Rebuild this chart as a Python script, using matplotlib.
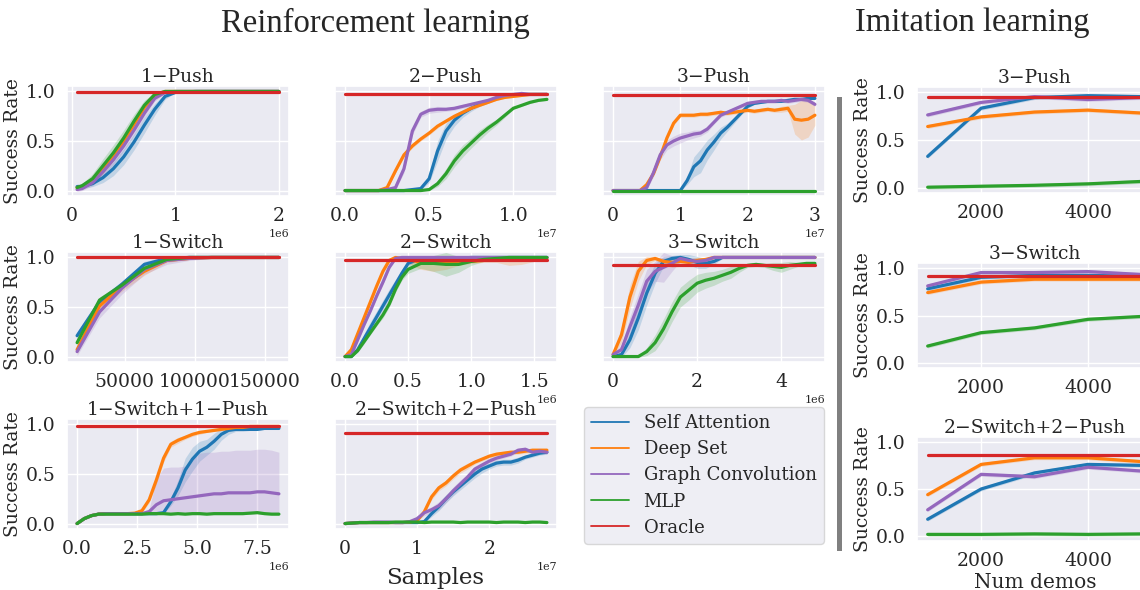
import numpy as np
import matplotlib
matplotlib.use("Agg")
import matplotlib.pyplot as plt
import seaborn as sns
from matplotlib.ticker import MultipleLocator
from matplotlib.lines import Line2D
from matplotlib.patches import Rectangle

sns.set_theme(style="darkgrid")
plt.rcParams["font.family"] = ["DejaVu Serif"]
plt.rcParams["text.color"] = "#262626"
plt.rcParams["xtick.color"] = "#262626"
plt.rcParams["ytick.color"] = "#262626"
plt.rcParams["axes.labelcolor"] = "#262626"

METHODS = ["Self Attention", "Deep Set", "Graph Convolution", "MLP", "Oracle"]
COLORS = ["#1f77b4", "#ff7f0e", "#9467bd", "#2ca02c", "#d62728"]

# ---------------- Reinforcement learning ----------------
# 1-Push
push1_x = np.array([0.05, 0.1, 0.2, 0.3, 0.4, 0.5, 0.6, 0.7, 0.8, 0.9, 1.0, 1.2, 1.4, 1.6, 1.8, 2.0]) * 1e6
push1_sa = [0.04, 0.04, 0.07, 0.13, 0.22, 0.34, 0.49, 0.66, 0.82, 0.95, 0.99, 1.0, 1.0, 1.0, 1.0, 1.0]
push1_ds = [0.03, 0.04, 0.11, 0.22, 0.35, 0.50, 0.67, 0.84, 0.96, 1.0, 1.0, 1.0, 1.0, 1.0, 1.0, 1.0]
push1_gc = [0.01, 0.02, 0.08, 0.19, 0.31, 0.45, 0.61, 0.78, 0.93, 0.99, 1.0, 1.0, 1.0, 1.0, 1.0, 1.0]
push1_mlp = [0.03, 0.05, 0.12, 0.25, 0.38, 0.53, 0.70, 0.86, 0.97, 1.0, 1.0, 1.0, 1.0, 1.0, 1.0, 1.0]
push1_sa_sd = [0.03, 0.02, 0.03, 0.05, 0.07, 0.08, 0.08, 0.08, 0.06, 0.03, 0.0, 0, 0, 0, 0, 0]
push1_ds_sd = [0.02, 0.02, 0.04, 0.05, 0.05, 0.05, 0.05, 0.04, 0.02, 0.0, 0, 0, 0, 0, 0, 0]
push1_gc_sd = [0.02, 0.02, 0.03, 0.04, 0.05, 0.05, 0.05, 0.04, 0.03, 0.01, 0, 0, 0, 0, 0, 0]
push1_mlp_sd = [0.02, 0.02, 0.05, 0.07, 0.08, 0.08, 0.07, 0.05, 0.02, 0.0, 0, 0, 0, 0, 0, 0]
push1_oracle = 0.99

# 2-Push
push2_x = np.linspace(0, 1.2e7, 25)
push2_sa = [0, 0, 0, 0, 0, 0, 0, 0, 0.01, 0.02, 0.12, 0.40, 0.60, 0.71, 0.78, 0.83, 0.87, 0.90, 0.93, 0.95, 0.96, 0.97, 0.97, 0.97, 0.97]
push2_ds = [0, 0, 0, 0, 0, 0.03, 0.20, 0.36, 0.45, 0.52, 0.58, 0.65, 0.70, 0.75, 0.79, 0.83, 0.86, 0.89, 0.92, 0.94, 0.95, 0.96, 0.97, 0.97, 0.97]
push2_gc = [0, 0, 0, 0, 0, 0.01, 0.03, 0.22, 0.60, 0.77, 0.81, 0.82, 0.82, 0.83, 0.85, 0.87, 0.89, 0.91, 0.94, 0.96, 0.97, 0.98, 0.97, 0.97, 0.97]
push2_mlp = [0, 0, 0, 0, 0, 0, 0, 0, 0, 0, 0.01, 0.07, 0.17, 0.30, 0.40, 0.48, 0.56, 0.63, 0.69, 0.76, 0.83, 0.86, 0.89, 0.91, 0.92]
push2_sa_sd = [0, 0, 0, 0, 0, 0, 0, 0, 0, 0.01, 0.04, 0.10, 0.08, 0.06, 0.04, 0.03, 0.02, 0.02, 0.01, 0.01, 0.01, 0.01, 0.01, 0.01, 0.01]
push2_ds_sd = [0, 0, 0, 0, 0, 0.01, 0.02, 0.02, 0.02, 0.02, 0.02, 0.02, 0.01, 0.01, 0.01, 0.01, 0.01, 0.01, 0.01, 0.01, 0.01, 0.01, 0.01, 0.01, 0.01]
push2_gc_sd = [0, 0, 0, 0, 0, 0.01, 0.02, 0.04, 0.04, 0.03, 0.03, 0.03, 0.02, 0.02, 0.02, 0.02, 0.01, 0.01, 0.01, 0.01, 0.01, 0.01, 0.01, 0.01, 0.01]
push2_mlp_sd = [0, 0, 0, 0, 0, 0, 0, 0, 0, 0, 0.01, 0.03, 0.05, 0.06, 0.06, 0.05, 0.05, 0.04, 0.03, 0.02, 0.01, 0.01, 0.01, 0.01, 0.01]
push2_oracle = 0.97

# 3-Push
push3_x = np.linspace(0, 3e7, 31)
push3_sa = [0, 0, 0, 0, 0, 0, 0, 0, 0, 0, 0, 0.10, 0.24, 0.30, 0.41, 0.49, 0.58, 0.64, 0.71, 0.78, 0.85, 0.88, 0.89, 0.90, 0.90, 0.90, 0.91, 0.92, 0.92, 0.93, 0.93]
push3_ds = [0, 0, 0, 0, 0, 0.06, 0.17, 0.34, 0.53, 0.68, 0.76, 0.76, 0.76, 0.77, 0.77, 0.78, 0.79, 0.78, 0.79, 0.80, 0.81, 0.80, 0.81, 0.82, 0.81, 0.82, 0.83, 0.72, 0.71, 0.72, 0.76]
push3_gc = [0, 0, 0, 0, 0, 0.03, 0.18, 0.36, 0.46, 0.50, 0.53, 0.55, 0.57, 0.58, 0.62, 0.69, 0.76, 0.79, 0.82, 0.85, 0.88, 0.89, 0.90, 0.90, 0.90, 0.91, 0.90, 0.91, 0.92, 0.91, 0.87]
push3_mlp = [0] * 31
push3_sa_sd = [0, 0, 0, 0, 0, 0, 0, 0, 0, 0, 0, 0.04, 0.10, 0.12, 0.10, 0.08, 0.06, 0.04, 0.03, 0.02, 0.02, 0.01, 0.01, 0.01, 0.01, 0.01, 0.01, 0.01, 0.01, 0.01, 0.01]
push3_ds_sd = [0, 0, 0, 0, 0, 0.02, 0.02, 0.02, 0.02, 0.02, 0.02, 0.02, 0.02, 0.02, 0.02, 0.02, 0.02, 0.02, 0.02, 0.02, 0.02, 0.02, 0.02, 0.02, 0.02, 0.03, 0.03, 0.15, 0.20, 0.18, 0.10]
push3_gc_sd = [0, 0, 0, 0, 0, 0.02, 0.04, 0.05, 0.05, 0.05, 0.05, 0.04, 0.04, 0.03, 0.03, 0.02, 0.02, 0.02, 0.02, 0.02, 0.02, 0.02, 0.02, 0.02, 0.02, 0.02, 0.02, 0.02, 0.02, 0.02, 0.02]
push3_mlp_sd = 0.0
push3_oracle = 0.96

# 1-Switch
switch1_x = np.array([16000, 32000, 48000, 64000, 80000, 96000, 112000, 128000, 144000, 160000])
switch1_sa = [0.21, 0.55, 0.73, 0.93, 0.99, 1.0, 1.0, 1.0, 1.0, 1.0]
switch1_ds = [0.07, 0.51, 0.71, 0.86, 0.97, 0.99, 1.0, 1.0, 1.0, 1.0]
switch1_gc = [0.05, 0.45, 0.69, 0.88, 0.97, 0.99, 1.0, 1.0, 1.0, 1.0]
switch1_mlp = [0.14, 0.57, 0.72, 0.89, 0.98, 1.0, 1.0, 1.0, 1.0, 1.0]
switch1_sa_sd = [0.04, 0.04, 0.03, 0.03, 0.02, 0.01, 0, 0, 0, 0]
switch1_ds_sd = [0.04, 0.04, 0.05, 0.04, 0.02, 0.01, 0, 0, 0, 0]
switch1_gc_sd = [0.04, 0.06, 0.06, 0.05, 0.04, 0.02, 0.01, 0, 0, 0]
switch1_mlp_sd = [0.03, 0.03, 0.03, 0.03, 0.02, 0.01, 0, 0, 0, 0]
switch1_oracle = 1.0

# 2-Switch
switch2_x = np.array([0, 0.05, 0.1, 0.15, 0.2, 0.25, 0.3, 0.35, 0.4, 0.45, 0.5, 0.6, 0.7, 0.8, 0.9, 1.0, 1.1, 1.2, 1.3, 1.4, 1.5, 1.6]) * 1e6
switch2_sa = [0, 0, 0.07, 0.18, 0.29, 0.40, 0.51, 0.62, 0.73, 0.84, 0.94, 0.99, 0.99, 0.99, 0.99, 1.0, 1.0, 1.0, 1.0, 1.0, 1.0, 1.0]
switch2_ds = [0, 0.07, 0.23, 0.39, 0.55, 0.71, 0.86, 0.97, 1.0, 0.99, 0.98, 0.95, 0.94, 0.94, 0.95, 0.96, 0.97, 0.98, 0.97, 0.97, 0.98, 0.99]
switch2_gc = [0, 0.02, 0.17, 0.32, 0.46, 0.61, 0.75, 0.90, 0.99, 1.0, 1.0, 1.0, 1.0, 1.0, 1.0, 1.0, 1.0, 1.0, 1.0, 1.0, 1.0, 1.0]
switch2_mlp = [0, 0, 0.06, 0.15, 0.24, 0.33, 0.42, 0.53, 0.68, 0.80, 0.88, 0.94, 0.94, 0.93, 0.93, 0.96, 0.98, 0.99, 1.0, 1.0, 1.0, 1.0]
switch2_sa_sd = [0, 0, 0.03, 0.05, 0.06, 0.06, 0.06, 0.06, 0.05, 0.04, 0.02, 0.01, 0.01, 0.01, 0.01, 0, 0, 0, 0, 0, 0, 0]
switch2_ds_sd = [0, 0.01, 0.02, 0.02, 0.02, 0.02, 0.02, 0.02, 0.01, 0.02, 0.04, 0.07, 0.08, 0.06, 0.03, 0.02, 0.02, 0.03, 0.05, 0.04, 0.02, 0.01]
switch2_gc_sd = [0, 0.01, 0.02, 0.02, 0.02, 0.02, 0.02, 0.02, 0.01, 0, 0, 0, 0, 0, 0, 0, 0, 0, 0, 0, 0, 0]
switch2_mlp_sd = [0, 0, 0.01, 0.02, 0.02, 0.02, 0.03, 0.03, 0.03, 0.03, 0.04, 0.05, 0.08, 0.12, 0.08, 0.04, 0.02, 0.01, 0, 0, 0, 0]
switch2_oracle = 0.975

# 3-Switch
switch3_x = np.linspace(0, 4.8e6, 25)
switch3_sa = [0.0, 0.02, 0.17, 0.39, 0.64, 0.84, 0.96, 0.99, 1.0, 0.98, 0.95, 0.94, 0.96, 1.0, 1.0, 1.0, 1.0, 1.0, 1.0, 1.0, 1.0, 1.0, 1.0, 1.0, 1.0]
switch3_ds = [0.02, 0.22, 0.60, 0.86, 0.97, 0.99, 0.96, 0.95, 0.96, 0.95, 0.97, 0.98, 1.0, 1.0, 1.0, 1.0, 1.0, 1.0, 1.0, 1.0, 1.0, 1.0, 1.0, 1.0, 1.0]
switch3_gc = [0.02, 0.07, 0.30, 0.52, 0.76, 0.86, 0.90, 0.94, 0.99, 0.97, 0.96, 0.97, 1.0, 1.0, 1.0, 1.0, 1.0, 1.0, 1.0, 1.0, 1.0, 1.0, 1.0, 1.0, 1.0]
switch3_mlp = [0, 0, 0, 0, 0.05, 0.14, 0.28, 0.45, 0.60, 0.67, 0.74, 0.77, 0.79, 0.82, 0.85, 0.89, 0.92, 0.93, 0.92, 0.91, 0.90, 0.92, 0.93, 0.94, 0.94]
switch3_sa_sd = [0.01, 0.03, 0.08, 0.12, 0.12, 0.10, 0.05, 0.03, 0.03, 0.05, 0.06, 0.05, 0.03, 0.01, 0, 0, 0, 0, 0, 0, 0, 0, 0, 0, 0]
switch3_ds_sd = [0.01, 0.08, 0.12, 0.10, 0.04, 0.02, 0.03, 0.05, 0.05, 0.04, 0.03, 0.02, 0.01, 0, 0, 0, 0, 0, 0, 0, 0, 0, 0, 0, 0]
switch3_gc_sd = [0.01, 0.05, 0.10, 0.12, 0.12, 0.10, 0.15, 0.08, 0.03, 0.03, 0.03, 0.02, 0.01, 0, 0, 0, 0, 0, 0, 0, 0, 0, 0, 0, 0]
switch3_mlp_sd = [0, 0, 0, 0.01, 0.04, 0.08, 0.10, 0.10, 0.10, 0.10, 0.09, 0.08, 0.07, 0.06, 0.06, 0.04, 0.02, 0.02, 0.02, 0.04, 0.05, 0.04, 0.02, 0.01, 0.01]
switch3_oracle = 0.92

# 1-Switch+1-Push
s1p1_x = np.linspace(0, 8.4e6, 29)
s1p1_sa = [0, 0.05, 0.08, 0.095, 0.1, 0.1, 0.1, 0.1, 0.1, 0.1, 0.1, 0.1, 0.11, 0.22, 0.36, 0.54, 0.65, 0.73, 0.77, 0.83, 0.90, 0.94, 0.95, 0.95, 0.95, 0.95, 0.96, 0.96, 0.96]
s1p1_ds = [0, 0.05, 0.08, 0.095, 0.1, 0.1, 0.1, 0.1, 0.105, 0.13, 0.24, 0.44, 0.66, 0.80, 0.84, 0.87, 0.90, 0.92, 0.93, 0.94, 0.95, 0.96, 0.97, 0.97, 0.98, 0.98, 0.98, 0.98, 0.98]
s1p1_gc = [0, 0.05, 0.08, 0.095, 0.1, 0.1, 0.1, 0.1, 0.1, 0.1, 0.12, 0.19, 0.23, 0.24, 0.25, 0.26, 0.27, 0.28, 0.29, 0.30, 0.30, 0.31, 0.31, 0.31, 0.31, 0.32, 0.32, 0.31, 0.30]
s1p1_mlp = [0, 0.05, 0.08, 0.095, 0.095, 0.095, 0.095, 0.095, 0.095, 0.095, 0.1, 0.1, 0.1, 0.095, 0.1, 0.095, 0.1, 0.1, 0.095, 0.1, 0.1, 0.1, 0.1, 0.1, 0.105, 0.11, 0.1, 0.095, 0.095]
s1p1_sa_sd = [0, 0.01, 0.01, 0.01, 0.01, 0.01, 0.01, 0.01, 0.01, 0.01, 0.01, 0.01, 0.01, 0.04, 0.08, 0.12, 0.12, 0.10, 0.08, 0.08, 0.06, 0.04, 0.02, 0.02, 0.01, 0.01, 0.01, 0.01, 0.01]
s1p1_ds_sd = [0, 0.01, 0.01, 0.01, 0.01, 0.01, 0.01, 0.01, 0.01, 0.02, 0.03, 0.04, 0.04, 0.03, 0.03, 0.02, 0.02, 0.02, 0.01, 0.01, 0.01, 0.01, 0.01, 0.01, 0.01, 0.01, 0.01, 0.01, 0.01]
s1p1_gc_lo = [0, 0.05, 0.08, 0.09, 0.095, 0.095, 0.095, 0.095, 0.095, 0.095, 0.1, 0.1, 0.1, 0.1, 0.1, 0.1, 0.1, 0.1, 0.1, 0.1, 0.1, 0.1, 0.1, 0.1, 0.1, 0.1, 0.1, 0.1, 0.1]
s1p1_gc_hi = [0, 0.05, 0.08, 0.10, 0.11, 0.11, 0.11, 0.11, 0.11, 0.12, 0.15, 0.45, 0.56, 0.57, 0.57, 0.58, 0.65, 0.71, 0.72, 0.72, 0.73, 0.73, 0.74, 0.74, 0.74, 0.75, 0.75, 0.74, 0.72]
s1p1_mlp_sd = 0.01
s1p1_oracle = 0.98

# 2-Switch+2-Push
s2p2_x = np.linspace(0, 2.8e7, 29)
s2p2_sa = [0, 0.005, 0.01, 0.01, 0.01, 0.01, 0.01, 0.01, 0.01, 0.01, 0.01, 0.02, 0.10, 0.17, 0.25, 0.32, 0.38, 0.44, 0.50, 0.55, 0.58, 0.61, 0.62, 0.62, 0.64, 0.67, 0.69, 0.71, 0.72]
s2p2_ds = [0, 0.005, 0.01, 0.01, 0.01, 0.01, 0.01, 0.01, 0.01, 0.015, 0.03, 0.12, 0.27, 0.36, 0.41, 0.48, 0.54, 0.58, 0.62, 0.65, 0.68, 0.70, 0.71, 0.72, 0.72, 0.73, 0.74, 0.74, 0.74]
s2p2_gc = [0, 0.005, 0.01, 0.01, 0.015, 0.015, 0.015, 0.01, 0.01, 0.02, 0.05, 0.11, 0.14, 0.18, 0.25, 0.33, 0.40, 0.47, 0.55, 0.59, 0.63, 0.66, 0.68, 0.70, 0.74, 0.75, 0.72, 0.73, 0.72]
s2p2_mlp = [0, 0.005, 0.01, 0.01, 0.01, 0.01, 0.01, 0.015, 0.015, 0.015, 0.015, 0.01, 0.015, 0.015, 0.015, 0.015, 0.01, 0.015, 0.015, 0.015, 0.015, 0.01, 0.015, 0.015, 0.015, 0.01, 0.015, 0.015, 0.01]
s2p2_sa_sd = [0, 0, 0, 0, 0, 0, 0, 0, 0, 0, 0, 0.01, 0.03, 0.04, 0.04, 0.04, 0.04, 0.04, 0.04, 0.04, 0.03, 0.03, 0.03, 0.03, 0.03, 0.02, 0.02, 0.02, 0.02]
s2p2_ds_sd = [0, 0, 0, 0, 0, 0, 0, 0, 0, 0.01, 0.01, 0.02, 0.03, 0.03, 0.03, 0.03, 0.03, 0.03, 0.02, 0.02, 0.02, 0.02, 0.02, 0.02, 0.02, 0.02, 0.02, 0.02, 0.02]
s2p2_gc_sd = [0, 0, 0, 0, 0, 0, 0, 0, 0, 0.01, 0.02, 0.03, 0.03, 0.04, 0.04, 0.04, 0.04, 0.03, 0.03, 0.03, 0.03, 0.02, 0.02, 0.02, 0.02, 0.02, 0.02, 0.02, 0.02]
s2p2_mlp_sd = 0.005
s2p2_oracle = 0.91

# ---------------- Imitation learning ----------------
demos = np.array([1000, 2000, 3000, 4000, 5000])

il_push3_sa = [0.33, 0.83, 0.94, 0.96, 0.95]
il_push3_ds = [0.64, 0.74, 0.79, 0.81, 0.78]
il_push3_gc = [0.76, 0.89, 0.95, 0.92, 0.94]
il_push3_mlp = [0.01, 0.02, 0.03, 0.045, 0.07]
il_push3_oracle = 0.95

il_switch3_sa = [0.78, 0.90, 0.92, 0.92, 0.91]
il_switch3_ds = [0.74, 0.85, 0.88, 0.88, 0.88]
il_switch3_gc = [0.81, 0.95, 0.95, 0.96, 0.93]
il_switch3_mlp = [0.18, 0.32, 0.37, 0.46, 0.49]
il_switch3_oracle = 0.91

il_s2p2_sa = [0.18, 0.50, 0.67, 0.76, 0.75]
il_s2p2_ds = [0.44, 0.76, 0.83, 0.83, 0.79]
il_s2p2_gc = [0.28, 0.655, 0.63, 0.73, 0.69]
il_s2p2_mlp = [0.02, 0.02, 0.025, 0.02, 0.025]
il_s2p2_oracle = 0.86
il_sd = 0.02

W, H = 1140, 590
fig = plt.figure(figsize=(W / 100, H / 100), dpi=100)


def axes_px(left, top, width, height):
    return fig.add_axes([left / W, 1 - (top + height) / H, width / W, height / H])


def draw_panel(ax, x, curves, oracle, title, step, ylabels):
    for color, (mean, spread) in zip(COLORS[:4], curves):
        mean = np.asarray(mean, dtype=float)
        if isinstance(spread, tuple):
            lo, hi = (np.asarray(s, dtype=float) for s in spread)
        else:
            sd = np.asarray(spread, dtype=float)
            lo, hi = mean - sd, mean + sd
        ax.fill_between(x, lo, hi, color=color, alpha=0.2, lw=0)
        ax.plot(x, mean, color=color, lw=2.3)
    ax.plot([x[0], x[-1]], [oracle, oracle], color=COLORS[4], lw=2.3)
    ax.set_title(title, fontsize=13.5, pad=3)
    ax.set_ylim(-0.055, 1.055)
    ax.set_yticks([0.0, 0.5, 1.0])
    ax.xaxis.set_major_locator(MultipleLocator(step))
    ax.tick_params(labelsize=13.5, pad=2)
    ax.xaxis.get_offset_text().set_fontsize(8)
    if ylabels:
        ax.set_ylabel("Success Rate", fontsize=13.5, labelpad=3)
    else:
        ax.set_yticklabels([])


cols = [67, 335, 603]
rows = [86, 252, 419]
aw, ah = 222, 110

rl_panels = [
    (0, 0, push1_x, [(push1_sa, push1_sa_sd), (push1_ds, push1_ds_sd), (push1_gc, push1_gc_sd), (push1_mlp, push1_mlp_sd)], push1_oracle, "1\u2212Push", 1e6),
    (0, 1, push2_x, [(push2_sa, push2_sa_sd), (push2_ds, push2_ds_sd), (push2_gc, push2_gc_sd), (push2_mlp, push2_mlp_sd)], push2_oracle, "2\u2212Push", 0.5e7),
    (0, 2, push3_x, [(push3_sa, push3_sa_sd), (push3_ds, push3_ds_sd), (push3_gc, push3_gc_sd), (push3_mlp, push3_mlp_sd)], push3_oracle, "3\u2212Push", 1e7),
    (1, 0, switch1_x, [(switch1_sa, switch1_sa_sd), (switch1_ds, switch1_ds_sd), (switch1_gc, switch1_gc_sd), (switch1_mlp, switch1_mlp_sd)], switch1_oracle, "1\u2212Switch", 50000),
    (1, 1, switch2_x, [(switch2_sa, switch2_sa_sd), (switch2_ds, switch2_ds_sd), (switch2_gc, switch2_gc_sd), (switch2_mlp, switch2_mlp_sd)], switch2_oracle, "2\u2212Switch", 0.5e6),
    (1, 2, switch3_x, [(switch3_sa, switch3_sa_sd), (switch3_ds, switch3_ds_sd), (switch3_gc, switch3_gc_sd), (switch3_mlp, switch3_mlp_sd)], switch3_oracle, "3\u2212Switch", 2e6),
    (2, 0, s1p1_x, [(s1p1_sa, s1p1_sa_sd), (s1p1_ds, s1p1_ds_sd), (s1p1_gc, (s1p1_gc_lo, s1p1_gc_hi)), (s1p1_mlp, s1p1_mlp_sd)], s1p1_oracle, "1\u2212Switch+1\u2212Push", 2.5e6),
    (2, 1, s2p2_x, [(s2p2_sa, s2p2_sa_sd), (s2p2_ds, s2p2_ds_sd), (s2p2_gc, s2p2_gc_sd), (s2p2_mlp, s2p2_mlp_sd)], s2p2_oracle, "2\u2212Switch+2\u2212Push", 1e7),
]

for r, c, x, curves, oracle, title, step in rl_panels:
    ax = axes_px(cols[c], rows[r], aw, ah)
    draw_panel(ax, x, curves, oracle, title, step, ylabels=(c == 0))

il_tops = [87, 263, 437]
il_heights = [106, 105, 104]
il_panels = [
    ([il_push3_sa, il_push3_ds, il_push3_gc, il_push3_mlp], il_push3_oracle, "3\u2212Push"),
    ([il_switch3_sa, il_switch3_ds, il_switch3_gc, il_switch3_mlp], il_switch3_oracle, "3\u2212Switch"),
    ([il_s2p2_sa, il_s2p2_ds, il_s2p2_gc, il_s2p2_mlp], il_s2p2_oracle, "2\u2212Switch+2\u2212Push"),
]
for i, (means, oracle, title) in enumerate(il_panels):
    ax = axes_px(917, il_tops[i], 235, il_heights[i])
    draw_panel(ax, demos, [(m, il_sd) for m in means], oracle, title, 2000, ylabels=True)
    ax.set_xlim(800, 5200)
    ax.set_ylim(-0.05, 1.05)

# x label of the imitation column, centred under its axes
fig.text(1035 / W, 1 - 588 / H, "Num demos", fontsize=14.5, ha="center", va="baseline")

# legend
handles = [Line2D([], [], color=col, lw=1.3) for col in COLORS]
leg = fig.legend(handles, METHODS, loc="upper left", bbox_to_anchor=(584 / W, 1 - 407 / H),
                 fontsize=13, frameon=True, borderaxespad=0, handlelength=2.1,
                 labelspacing=0.45)
leg.get_frame().set_facecolor("#EAEAF2")
leg.get_frame().set_edgecolor("#d0d0d0")

# separator between the two groups
fig.add_artist(Rectangle((837 / W, 1 - 551 / H), 5 / W, 454 / H, transform=fig.transFigure,
                         facecolor="#808080", edgecolor="none"))

fig.text(375 / W, 1 - 23 / H, "Reinforcement learning", fontsize=23.5,
         family="Liberation Serif", ha="center", va="center")
fig.text(972 / W, 1 - 23 / H, "Imitation learning", fontsize=23.5,
         family="Liberation Serif", ha="center", va="center")
fig.text(435 / W, 1 - 578 / H, "Samples", fontsize=16.5, ha="center", va="center")

fig.savefig("out.png", dpi=100)
